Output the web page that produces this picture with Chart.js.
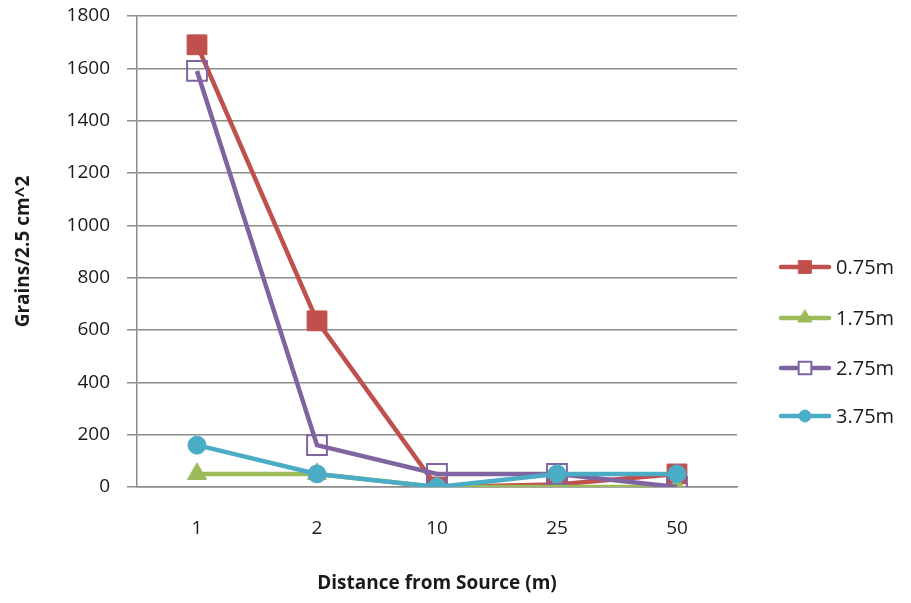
<!DOCTYPE html>
<html>
<head>
<meta charset="utf-8">
<script src="https://cdn.jsdelivr.net/npm/chart.js@4"></script>
<style>
    html, body { margin: 0; padding: 0; background: #fff; }
    #wrap { width: 911px; height: 603px; }
</style>
</head>
<body>
<div id="wrap"><canvas id="chart" width="911" height="603"></canvas></div>
<script>
// Distance categories and grain counts per height
const distances = ['1', '2', '10', '25', '50'];
const seriesNames = ['0.75m', '1.75m', '2.75m', '3.75m'];
const h075 = [1690, 635, 0, 10, 50];
const h175 = [50, 50, 0, 0, 0];
const h275 = [1590, 160, 50, 50, 0];
const h375 = [160, 50, 0, 50, 50];
const yTicks = [0, 200, 400, 600, 800, 1000, 1200, 1400, 1600, 1800];

const FONT = 'Open Sans, Liberation Sans, sans-serif';
const GRID = '#8c8c8c';
const TEXT = '#1a1a1a';

// Excel 2010 default palette
const styles = [
    { color: '#C0504D', fill: '#C0504D', point: 'rect', radius: 14, legendRadius: 9 },
    { color: '#9BBB59', fill: '#9BBB59', point: 'triangle', radius: 11, legendRadius: 8 },
    { color: '#8064A2', fill: 'rgba(0,0,0,0)', point: 'rect', radius: 14, legendRadius: 9 },
    { color: '#4BACC6', fill: '#4BACC6', point: 'circle', radius: 9, legendRadius: 6 }
];

const values = [h075, h175, h275, h375];

const datasets = values.map((vals, i) => ({
    label: seriesNames[i],
    data: vals,
    borderColor: styles[i].color,
    backgroundColor: styles[i].fill,
    pointBackgroundColor: styles[i].fill,
    pointBorderColor: styles[i].color,
    pointBorderWidth: i === 2 ? 2 : 1,
    pointStyle: styles[i].point,
    pointRadius: styles[i].radius,
    borderWidth: 4.5,
    tension: 0,
    order: values.length - i
}));

// Legend drawn by hand to get the line-with-marker look
const sideLegend = {
    id: 'sideLegend',
    afterDraw(chart) {
        const ctx = chart.ctx;
        const rows = [267, 318, 368, 416];
        ctx.save();
        chart.data.datasets.forEach((ds, i) => {
            const y = rows[i];
            ctx.strokeStyle = ds.borderColor;
            ctx.lineWidth = 4.5;
            ctx.lineCap = 'round';
            ctx.beginPath();
            ctx.moveTo(781, y);
            ctx.lineTo(829, y);
            ctx.stroke();
            ctx.fillStyle = i === 2 ? '#fff' : ds.pointBackgroundColor;
            ctx.strokeStyle = ds.pointBorderColor;
            ctx.lineWidth = ds.pointBorderWidth;
            Chart.helpers.drawPoint(ctx, {
                pointStyle: ds.pointStyle,
                radius: styles[i].legendRadius,
                borderWidth: ds.pointBorderWidth
            }, 805, y);
            ctx.fillStyle = TEXT;
            ctx.font = '20px ' + FONT;
            ctx.textAlign = 'left';
            ctx.textBaseline = 'middle';
            ctx.fillText(ds.label, 836, y + 1);
        });
        ctx.restore();
    }
};

new Chart(document.getElementById('chart'), {
    type: 'line',
    data: { labels: distances, datasets: datasets },
    options: {
        responsive: false,
        animation: false,
        layout: { padding: { top: 15, right: 174, left: 0, bottom: 0 } },
        plugins: {
            legend: { display: false },
            tooltip: { enabled: false }
        },
        scales: {
            x: {
                offset: true,
                grid: { display: false, drawTicks: false },
                border: { display: true, color: GRID, width: 1.5 },
                ticks: {
                    color: TEXT,
                    font: { family: FONT, size: 19 },
                    padding: 30,
                    maxRotation: 0
                },
                title: {
                    display: true,
                    text: 'Distance from Source (m)',
                    color: TEXT,
                    font: { family: FONT, size: 19, weight: 'bold' },
                    padding: { top: 0, bottom: 8 }
                },
                afterFit: scale => { scale.height = 116; }
            },
            y: {
                min: 0,
                max: 1800,
                afterBuildTicks: scale => {
                    scale.ticks = yTicks.map(v => ({ value: v }));
                },
                grid: { color: GRID, lineWidth: 1.5, tickLength: 10 },
                border: { display: true, color: GRID, width: 1.5 },
                ticks: {
                    color: TEXT,
                    font: { family: FONT, size: 19 },
                    padding: 17,
                    callback: v => String(v)
                },
                title: {
                    display: true,
                    text: 'Grains/2.5 cm^2',
                    color: TEXT,
                    font: { family: FONT, size: 19, weight: 'bold' },
                    padding: { top: 12, bottom: 0 }
                },
                afterFit: scale => {
                    scale.width = 137;
                    scale.paddingTop = 0;
                    scale.paddingBottom = 0;
                }
            }
        }
    },
    plugins: [sideLegend]
});
</script>
</body>
</html>
